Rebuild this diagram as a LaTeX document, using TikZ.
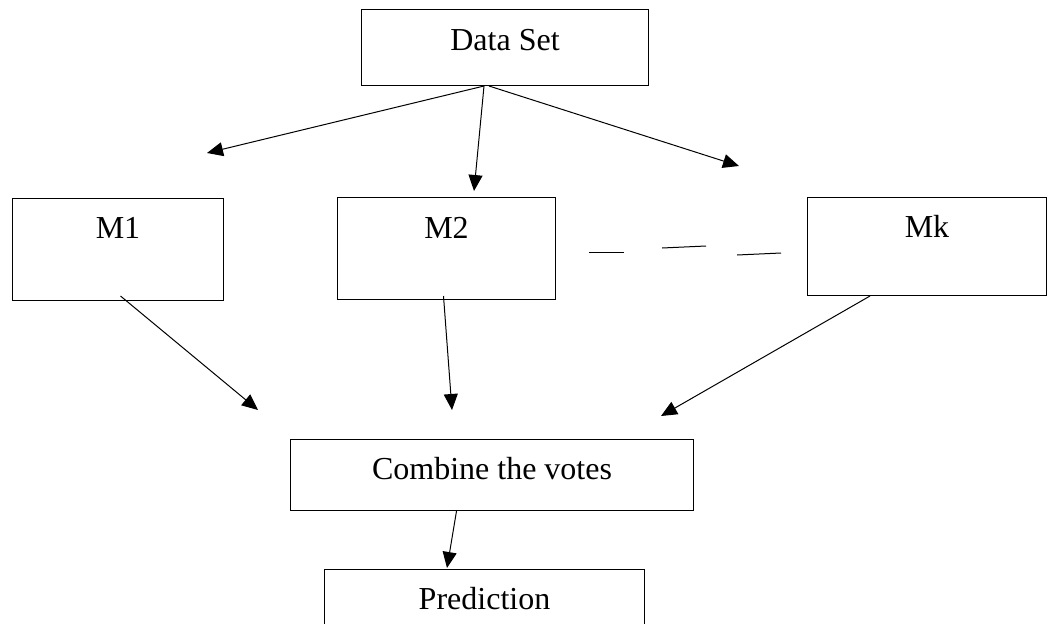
\documentclass[tikz,border=0pt]{standalone}
\usepackage{fontspec}
\setmainfont{Liberation Serif}
\usetikzlibrary{arrows.meta}

\tikzset{
  box/.style={draw,line width=1pt,rectangle,inner sep=0pt,anchor=north west,text height=40pt},
  arr/.style={line width=1pt,-{Triangle[length=16pt,width=14pt]}},
}

\begin{document}
\begin{tikzpicture}[x=1pt,y=-1pt]
  \fontsize{32}{38}\selectfont
  \useasboundingbox (0,0) rectangle (1048,623);
  \clip (0,0) rectangle (1048,623);
  % helper grid: comment for final drawing
  % \draw[help lines,step=50] (0,0) grid (1048,623);

  % boxes
  \node[box,minimum width=287pt,text height=41pt,text depth=35pt] (data) at (361,9) {Data Set};
  \node[box,minimum width=211pt,text depth=62pt] (m1) at (12,198) {M1};
  \node[box,minimum width=218pt,text height=41pt,text depth=61pt] (m2) at (337,197) {M2};
  \node[box,minimum width=239pt,text depth=58pt] (mk) at (807,197) {Mk};
  \node[box,minimum width=403pt,text depth=31pt] (vote) at (290,439) {Combine the votes};
  \node[box,minimum width=320pt,text depth=45pt] (pred) at (324,569) {Prediction};

  % arrow ends
  \coordinate (m1-in) at (207,153);
  \coordinate (m2-in) at (474,191);
  \coordinate (mk-in) at (739,166);
  \coordinate (vote-l) at (258,410);
  \coordinate (vote-m) at (452,410);
  \coordinate (vote-r) at (661,416);
  \coordinate (pred-in) at (447,568);

  % data set to models
  \draw[arr] ([xshift=-21pt]data.south) -- (m1-in);
  \draw[arr] ([xshift=-21pt]data.south) -- (m2-in);
  \draw[arr] ([xshift=-16pt]data.south) -- (mk-in);

  % models to votes
  \draw[arr] ([xshift=2.5pt,yshift=5pt]m1.south) -- (vote-l);
  \draw[arr] ([xshift=-3pt,yshift=4pt]m2.south) -- (vote-m);
  \draw[arr] ([xshift=-57pt]mk.south) -- (vote-r);
  \draw[arr] ([xshift=-35.5pt]vote.south) -- (pred-in);

  % dashes between M2 and Mk
  \draw[line width=1pt] (589,252) -- (624,252);
  \draw[line width=1pt] (662,248) -- (706,246);
  \draw[line width=1pt] (737,255) -- (781,253);
\end{tikzpicture}
\end{document}
